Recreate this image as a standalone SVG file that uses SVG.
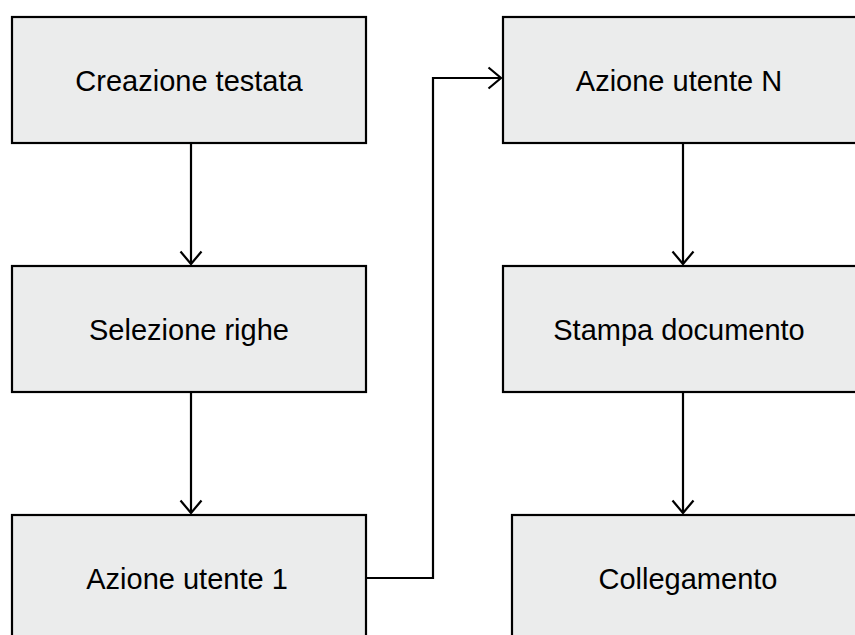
<svg xmlns="http://www.w3.org/2000/svg" width="855" height="635" viewBox="0 0 855 635">
<style>
.box{fill:#ebecec;stroke:#000;stroke-width:2.2}
.lbl{font-family:"Liberation Sans",Arial,sans-serif;font-size:29px;fill:#000;text-anchor:middle}
.edge{fill:none;stroke:#000;stroke-width:2.2}
</style>
<defs>
<marker id="arr" markerUnits="userSpaceOnUse" markerWidth="30" markerHeight="30" refX="14" refY="12" orient="auto" viewBox="0 0 30 30">
<path d="M1.5,1.5 L14,12 L1.5,22.5" fill="none" stroke="#000" stroke-width="2.2"/>
</marker>
</defs>
<rect width="855" height="635" fill="#fff"/>
<g id="connectors">
<path class="edge" d="M191,143 V264" marker-end="url(#arr)"/>
<path class="edge" d="M191,392 V513" marker-end="url(#arr)"/>
<path class="edge" d="M366,578 H433 V78 H501" marker-end="url(#arr)"/>
<path class="edge" d="M683,143 V264" marker-end="url(#arr)"/>
<path class="edge" d="M683,392 V513" marker-end="url(#arr)"/>
</g>
<g id="n1"><rect class="box" x="12" y="17" width="354" height="126"/><text class="lbl" x="189" y="91">Creazione testata</text></g>
<g id="n2"><rect class="box" x="12" y="266" width="354" height="126"/><text class="lbl" x="189" y="340">Selezione righe</text></g>
<g id="n3"><rect class="box" x="12" y="515" width="354" height="140"/><text class="lbl" x="187" y="589">Azione utente 1</text></g>
<g id="n4"><rect class="box" x="503" y="17" width="360" height="126"/><text class="lbl" x="679" y="91">Azione utente N</text></g>
<g id="n5"><rect class="box" x="503" y="266" width="360" height="126"/><text class="lbl" x="679" y="340">Stampa documento</text></g>
<g id="n6"><rect class="box" x="512" y="515" width="360" height="140"/><text class="lbl" x="688" y="589">Collegamento</text></g>
</svg>
